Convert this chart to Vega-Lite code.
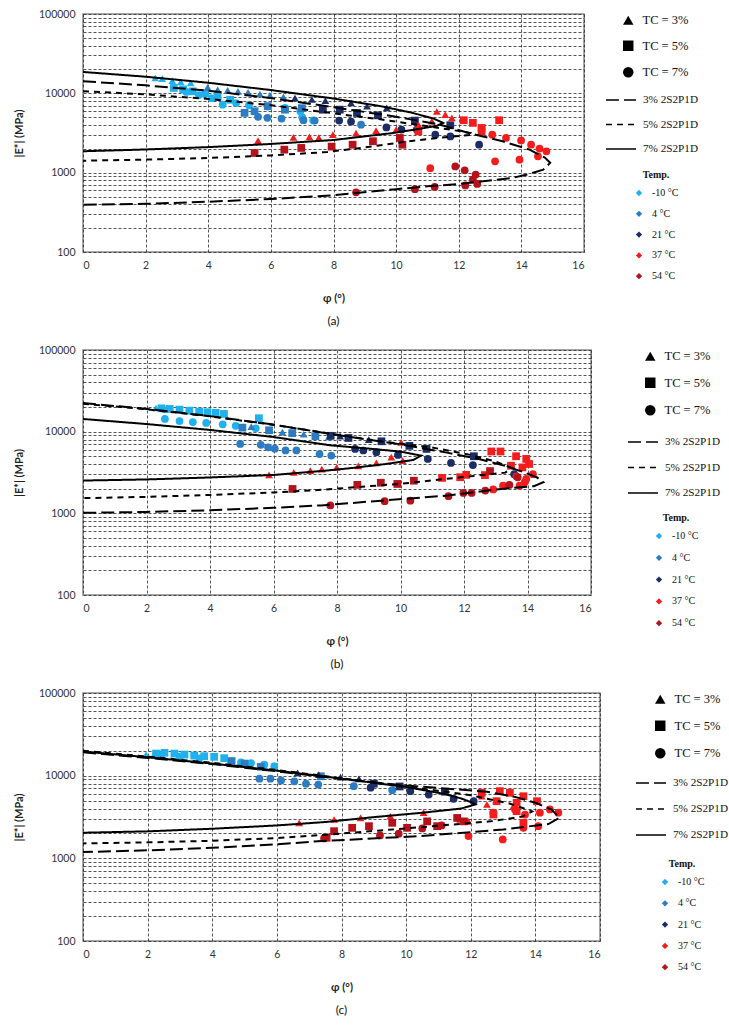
{
  "$schema": "https://vega.github.io/schema/vega-lite/v6.json",
  "background": "white",
  "padding": {"left": 12, "top": 8, "right": 0, "bottom": 0},
  "spacing": 16,
  "datasets": {
    "curves": [
      {"panel":"a","model":"3% 2S2P1D","phi":0,"E":14200},{"panel":"a","model":"3% 2S2P1D","phi":2,"E":12600},{"panel":"a","model":"3% 2S2P1D","phi":4,"E":10800},{"panel":"a","model":"3% 2S2P1D","phi":6,"E":8700},{"panel":"a","model":"3% 2S2P1D","phi":7.8,"E":6870},{"panel":"a","model":"3% 2S2P1D","phi":9.9,"E":5140},{"panel":"a","model":"3% 2S2P1D","phi":11.4,"E":4030},{"panel":"a","model":"3% 2S2P1D","phi":12.4,"E":3100},{"panel":"a","model":"3% 2S2P1D","phi":13.4,"E":2490},{"panel":"a","model":"3% 2S2P1D","phi":14.26,"E":1950},{"panel":"a","model":"3% 2S2P1D","phi":14.75,"E":1550},{"panel":"a","model":"3% 2S2P1D","phi":14.92,"E":1330},{"panel":"a","model":"3% 2S2P1D","phi":14.7,"E":1090},{"panel":"a","model":"3% 2S2P1D","phi":14.2,"E":950},{"panel":"a","model":"3% 2S2P1D","phi":13.7,"E":857},{"panel":"a","model":"3% 2S2P1D","phi":12,"E":720},{"panel":"a","model":"3% 2S2P1D","phi":11,"E":673},{"panel":"a","model":"3% 2S2P1D","phi":10,"E":620},{"panel":"a","model":"3% 2S2P1D","phi":8,"E":519},{"panel":"a","model":"3% 2S2P1D","phi":6,"E":465},{"panel":"a","model":"3% 2S2P1D","phi":4,"E":430},{"panel":"a","model":"3% 2S2P1D","phi":2,"E":405},{"panel":"a","model":"3% 2S2P1D","phi":0,"E":394},
      {"panel":"a","model":"5% 2S2P1D","phi":0,"E":10640},{"panel":"a","model":"5% 2S2P1D","phi":2,"E":9700},{"panel":"a","model":"5% 2S2P1D","phi":4,"E":8500},{"panel":"a","model":"5% 2S2P1D","phi":6,"E":7100},{"panel":"a","model":"5% 2S2P1D","phi":8,"E":5600},{"panel":"a","model":"5% 2S2P1D","phi":9.5,"E":4700},{"panel":"a","model":"5% 2S2P1D","phi":10.8,"E":3950},{"panel":"a","model":"5% 2S2P1D","phi":11.8,"E":3450},{"panel":"a","model":"5% 2S2P1D","phi":12.4,"E":3150},{"panel":"a","model":"5% 2S2P1D","phi":12.45,"E":3000},{"panel":"a","model":"5% 2S2P1D","phi":12.1,"E":2930},{"panel":"a","model":"5% 2S2P1D","phi":11.4,"E":2750},{"panel":"a","model":"5% 2S2P1D","phi":10.4,"E":2490},{"panel":"a","model":"5% 2S2P1D","phi":9,"E":2080},{"panel":"a","model":"5% 2S2P1D","phi":7.8,"E":1820},{"panel":"a","model":"5% 2S2P1D","phi":6,"E":1650},{"panel":"a","model":"5% 2S2P1D","phi":4,"E":1530},{"panel":"a","model":"5% 2S2P1D","phi":2,"E":1460},{"panel":"a","model":"5% 2S2P1D","phi":0,"E":1416},
      {"panel":"a","model":"7% 2S2P1D","phi":0,"E":18600},{"panel":"a","model":"7% 2S2P1D","phi":2,"E":16200},{"panel":"a","model":"7% 2S2P1D","phi":4,"E":13600},{"panel":"a","model":"7% 2S2P1D","phi":6,"E":11000},{"panel":"a","model":"7% 2S2P1D","phi":8,"E":8600},{"panel":"a","model":"7% 2S2P1D","phi":9.5,"E":6900},{"panel":"a","model":"7% 2S2P1D","phi":10.5,"E":5700},{"panel":"a","model":"7% 2S2P1D","phi":11.2,"E":4800},{"panel":"a","model":"7% 2S2P1D","phi":11.5,"E":4240},{"panel":"a","model":"7% 2S2P1D","phi":11.3,"E":3900},{"panel":"a","model":"7% 2S2P1D","phi":10.8,"E":3600},{"panel":"a","model":"7% 2S2P1D","phi":9.9,"E":3160},{"panel":"a","model":"7% 2S2P1D","phi":8,"E":2580},{"panel":"a","model":"7% 2S2P1D","phi":6,"E":2300},{"panel":"a","model":"7% 2S2P1D","phi":4,"E":2100},{"panel":"a","model":"7% 2S2P1D","phi":2,"E":1960},{"panel":"a","model":"7% 2S2P1D","phi":0,"E":1862},

      {"panel":"b","model":"3% 2S2P1D","phi":0,"E":22400},{"panel":"b","model":"3% 2S2P1D","phi":2,"E":19000},{"panel":"b","model":"3% 2S2P1D","phi":4,"E":15500},{"panel":"b","model":"3% 2S2P1D","phi":6,"E":12200},{"panel":"b","model":"3% 2S2P1D","phi":8,"E":9100},{"panel":"b","model":"3% 2S2P1D","phi":10,"E":7000},{"panel":"b","model":"3% 2S2P1D","phi":11.5,"E":5500},{"panel":"b","model":"3% 2S2P1D","phi":12.5,"E":4600},{"panel":"b","model":"3% 2S2P1D","phi":13.3,"E":3800},{"panel":"b","model":"3% 2S2P1D","phi":13.9,"E":3170},{"panel":"b","model":"3% 2S2P1D","phi":14.3,"E":2750},{"panel":"b","model":"3% 2S2P1D","phi":14.5,"E":2400},{"panel":"b","model":"3% 2S2P1D","phi":14.2,"E":2150},{"panel":"b","model":"3% 2S2P1D","phi":13,"E":1960},{"panel":"b","model":"3% 2S2P1D","phi":11.5,"E":1650},{"panel":"b","model":"3% 2S2P1D","phi":9.4,"E":1430},{"panel":"b","model":"3% 2S2P1D","phi":7.5,"E":1250},{"panel":"b","model":"3% 2S2P1D","phi":6,"E":1170},{"panel":"b","model":"3% 2S2P1D","phi":4,"E":1090},{"panel":"b","model":"3% 2S2P1D","phi":2,"E":1040},{"panel":"b","model":"3% 2S2P1D","phi":0,"E":1014},
      {"panel":"b","model":"5% 2S2P1D","phi":0,"E":22000},{"panel":"b","model":"5% 2S2P1D","phi":2,"E":18800},{"panel":"b","model":"5% 2S2P1D","phi":4,"E":15400},{"panel":"b","model":"5% 2S2P1D","phi":6,"E":12100},{"panel":"b","model":"5% 2S2P1D","phi":8,"E":9200},{"panel":"b","model":"5% 2S2P1D","phi":9.5,"E":7500},{"panel":"b","model":"5% 2S2P1D","phi":11,"E":6400},{"panel":"b","model":"5% 2S2P1D","phi":12.2,"E":5200},{"panel":"b","model":"5% 2S2P1D","phi":13,"E":4300},{"panel":"b","model":"5% 2S2P1D","phi":13.5,"E":3600},{"panel":"b","model":"5% 2S2P1D","phi":13.3,"E":3150},{"panel":"b","model":"5% 2S2P1D","phi":11.9,"E":2760},{"panel":"b","model":"5% 2S2P1D","phi":10,"E":2300},{"panel":"b","model":"5% 2S2P1D","phi":7.5,"E":1940},{"panel":"b","model":"5% 2S2P1D","phi":6,"E":1800},{"panel":"b","model":"5% 2S2P1D","phi":4,"E":1680},{"panel":"b","model":"5% 2S2P1D","phi":2,"E":1590},{"panel":"b","model":"5% 2S2P1D","phi":0,"E":1535},
      {"panel":"b","model":"7% 2S2P1D","phi":0,"E":14300},{"panel":"b","model":"7% 2S2P1D","phi":2,"E":12400},{"panel":"b","model":"7% 2S2P1D","phi":4,"E":10500},{"panel":"b","model":"7% 2S2P1D","phi":6,"E":8600},{"panel":"b","model":"7% 2S2P1D","phi":7.8,"E":6800},{"panel":"b","model":"7% 2S2P1D","phi":9,"E":6200},{"panel":"b","model":"7% 2S2P1D","phi":10,"E":5700},{"panel":"b","model":"7% 2S2P1D","phi":10.65,"E":5090},{"panel":"b","model":"7% 2S2P1D","phi":10.4,"E":4500},{"panel":"b","model":"7% 2S2P1D","phi":9.5,"E":4000},{"panel":"b","model":"7% 2S2P1D","phi":8.5,"E":3600},{"panel":"b","model":"7% 2S2P1D","phi":7.7,"E":3350},{"panel":"b","model":"7% 2S2P1D","phi":6,"E":2950},{"panel":"b","model":"7% 2S2P1D","phi":4,"E":2750},{"panel":"b","model":"7% 2S2P1D","phi":2,"E":2600},{"panel":"b","model":"7% 2S2P1D","phi":0,"E":2520},

      {"panel":"c","model":"3% 2S2P1D","phi":0,"E":19200},{"panel":"c","model":"3% 2S2P1D","phi":2,"E":16400},{"panel":"c","model":"3% 2S2P1D","phi":4,"E":13800},{"panel":"c","model":"3% 2S2P1D","phi":6,"E":11300},{"panel":"c","model":"3% 2S2P1D","phi":8,"E":9100},{"panel":"c","model":"3% 2S2P1D","phi":10,"E":7600},{"panel":"c","model":"3% 2S2P1D","phi":12.5,"E":6400},{"panel":"c","model":"3% 2S2P1D","phi":13.4,"E":5500},{"panel":"c","model":"3% 2S2P1D","phi":14,"E":4700},{"panel":"c","model":"3% 2S2P1D","phi":14.5,"E":3900},{"panel":"c","model":"3% 2S2P1D","phi":14.75,"E":3100},{"panel":"c","model":"3% 2S2P1D","phi":14.4,"E":2600},{"panel":"c","model":"3% 2S2P1D","phi":13,"E":2230},{"panel":"c","model":"3% 2S2P1D","phi":10.45,"E":1860},{"panel":"c","model":"3% 2S2P1D","phi":7.4,"E":1620},{"panel":"c","model":"3% 2S2P1D","phi":6,"E":1480},{"panel":"c","model":"3% 2S2P1D","phi":4,"E":1340},{"panel":"c","model":"3% 2S2P1D","phi":2,"E":1250},{"panel":"c","model":"3% 2S2P1D","phi":0,"E":1190},
      {"panel":"c","model":"5% 2S2P1D","phi":0,"E":20000},{"panel":"c","model":"5% 2S2P1D","phi":2,"E":17000},{"panel":"c","model":"5% 2S2P1D","phi":4,"E":14300},{"panel":"c","model":"5% 2S2P1D","phi":6,"E":11700},{"panel":"c","model":"5% 2S2P1D","phi":8,"E":9300},{"panel":"c","model":"5% 2S2P1D","phi":10,"E":7400},{"panel":"c","model":"5% 2S2P1D","phi":12,"E":5800},{"panel":"c","model":"5% 2S2P1D","phi":13.2,"E":4600},{"panel":"c","model":"5% 2S2P1D","phi":13.9,"E":3700},{"panel":"c","model":"5% 2S2P1D","phi":13.6,"E":3200},{"panel":"c","model":"5% 2S2P1D","phi":12.6,"E":2800},{"panel":"c","model":"5% 2S2P1D","phi":10,"E":2300},{"panel":"c","model":"5% 2S2P1D","phi":7.66,"E":1950},{"panel":"c","model":"5% 2S2P1D","phi":6,"E":1760},{"panel":"c","model":"5% 2S2P1D","phi":4,"E":1630},{"panel":"c","model":"5% 2S2P1D","phi":2,"E":1560},{"panel":"c","model":"5% 2S2P1D","phi":0,"E":1515},
      {"panel":"c","model":"7% 2S2P1D","phi":0,"E":19600},{"panel":"c","model":"7% 2S2P1D","phi":2,"E":16700},{"panel":"c","model":"7% 2S2P1D","phi":4,"E":14000},{"panel":"c","model":"7% 2S2P1D","phi":6,"E":11500},{"panel":"c","model":"7% 2S2P1D","phi":8,"E":9200},{"panel":"c","model":"7% 2S2P1D","phi":10,"E":7300},{"panel":"c","model":"7% 2S2P1D","phi":11.2,"E":6000},{"panel":"c","model":"7% 2S2P1D","phi":11.7,"E":5300},{"panel":"c","model":"7% 2S2P1D","phi":12.0,"E":4800},{"panel":"c","model":"7% 2S2P1D","phi":12.14,"E":4480},{"panel":"c","model":"7% 2S2P1D","phi":11.7,"E":4000},{"panel":"c","model":"7% 2S2P1D","phi":10.5,"E":3560},{"panel":"c","model":"7% 2S2P1D","phi":9,"E":3150},{"panel":"c","model":"7% 2S2P1D","phi":7.5,"E":2750},{"panel":"c","model":"7% 2S2P1D","phi":6,"E":2500},{"panel":"c","model":"7% 2S2P1D","phi":4,"E":2280},{"panel":"c","model":"7% 2S2P1D","phi":2,"E":2120},{"panel":"c","model":"7% 2S2P1D","phi":0,"E":2040}
    ],
    "points": [
      {"panel":"a","tc":"TC = 3%","temp":"-10 °C","phi":2.31,"E":15600},{"panel":"a","tc":"TC = 3%","temp":"-10 °C","phi":2.53,"E":15300},{"panel":"a","tc":"TC = 3%","temp":"-10 °C","phi":2.85,"E":14500},{"panel":"a","tc":"TC = 3%","temp":"-10 °C","phi":3.12,"E":13900},{"panel":"a","tc":"TC = 3%","temp":"-10 °C","phi":3.44,"E":13500},
      {"panel":"a","tc":"TC = 5%","temp":"-10 °C","phi":2.9,"E":11700},{"panel":"a","tc":"TC = 5%","temp":"-10 °C","phi":3.2,"E":11200},{"panel":"a","tc":"TC = 5%","temp":"-10 °C","phi":3.5,"E":10600},{"panel":"a","tc":"TC = 5%","temp":"-10 °C","phi":3.9,"E":10000},{"panel":"a","tc":"TC = 5%","temp":"-10 °C","phi":4.3,"E":9000},{"panel":"a","tc":"TC = 5%","temp":"-10 °C","phi":4.7,"E":8300},
      {"panel":"a","tc":"TC = 7%","temp":"-10 °C","phi":3.3,"E":10400},{"panel":"a","tc":"TC = 7%","temp":"-10 °C","phi":3.7,"E":9500},{"panel":"a","tc":"TC = 7%","temp":"-10 °C","phi":4.1,"E":8700},{"panel":"a","tc":"TC = 7%","temp":"-10 °C","phi":4.46,"E":7200},{"panel":"a","tc":"TC = 7%","temp":"-10 °C","phi":4.89,"E":7550},{"panel":"a","tc":"TC = 7%","temp":"-10 °C","phi":5.3,"E":7100},{"panel":"a","tc":"TC = 7%","temp":"-10 °C","phi":5.9,"E":6800},{"panel":"a","tc":"TC = 7%","temp":"-10 °C","phi":6.45,"E":6550},{"panel":"a","tc":"TC = 7%","temp":"-10 °C","phi":6.94,"E":5940},{"panel":"a","tc":"TC = 7%","temp":"-10 °C","phi":7.0,"E":5000},{"panel":"a","tc":"TC = 7%","temp":"-10 °C","phi":7.35,"E":4550},
      {"panel":"a","tc":"TC = 3%","temp":"4 °C","phi":3.98,"E":11900},{"panel":"a","tc":"TC = 3%","temp":"4 °C","phi":4.3,"E":11100},{"panel":"a","tc":"TC = 3%","temp":"4 °C","phi":4.62,"E":10900},{"panel":"a","tc":"TC = 3%","temp":"4 °C","phi":4.95,"E":10600},{"panel":"a","tc":"TC = 3%","temp":"4 °C","phi":5.27,"E":10300},{"panel":"a","tc":"TC = 3%","temp":"4 °C","phi":5.65,"E":9810},{"panel":"a","tc":"TC = 3%","temp":"4 °C","phi":5.97,"E":9430},{"panel":"a","tc":"TC = 3%","temp":"4 °C","phi":6.4,"E":9000},
      {"panel":"a","tc":"TC = 5%","temp":"4 °C","phi":5.16,"E":5670},{"panel":"a","tc":"TC = 5%","temp":"4 °C","phi":5.48,"E":5940},{"panel":"a","tc":"TC = 5%","temp":"4 °C","phi":5.9,"E":6900},{"panel":"a","tc":"TC = 5%","temp":"4 °C","phi":6.45,"E":6220},{"panel":"a","tc":"TC = 5%","temp":"4 °C","phi":6.99,"E":6500},
      {"panel":"a","tc":"TC = 7%","temp":"4 °C","phi":5.59,"E":5050},{"panel":"a","tc":"TC = 7%","temp":"4 °C","phi":5.89,"E":4920},{"panel":"a","tc":"TC = 7%","temp":"4 °C","phi":6.34,"E":4800},{"panel":"a","tc":"TC = 7%","temp":"4 °C","phi":7.04,"E":4580},{"panel":"a","tc":"TC = 7%","temp":"4 °C","phi":7.4,"E":4530},{"panel":"a","tc":"TC = 7%","temp":"4 °C","phi":8.88,"E":4030},
      {"panel":"a","tc":"TC = 3%","temp":"21 °C","phi":6.77,"E":8700},{"panel":"a","tc":"TC = 3%","temp":"21 °C","phi":7.31,"E":8360},{"panel":"a","tc":"TC = 3%","temp":"21 °C","phi":7.74,"E":8110},{"panel":"a","tc":"TC = 3%","temp":"21 °C","phi":8.56,"E":7590},{"panel":"a","tc":"TC = 3%","temp":"21 °C","phi":9.07,"E":6870},{"panel":"a","tc":"TC = 3%","temp":"21 °C","phi":9.7,"E":6550},
      {"panel":"a","tc":"TC = 5%","temp":"21 °C","phi":7.66,"E":6220},{"panel":"a","tc":"TC = 5%","temp":"21 °C","phi":8.2,"E":6230},{"panel":"a","tc":"TC = 5%","temp":"21 °C","phi":8.75,"E":5660},{"panel":"a","tc":"TC = 5%","temp":"21 °C","phi":9.42,"E":5280},{"panel":"a","tc":"TC = 5%","temp":"21 °C","phi":10.6,"E":4530},{"panel":"a","tc":"TC = 5%","temp":"21 °C","phi":11.73,"E":3960},
      {"panel":"a","tc":"TC = 7%","temp":"21 °C","phi":8.18,"E":4530},{"panel":"a","tc":"TC = 7%","temp":"21 °C","phi":8.56,"E":4400},{"panel":"a","tc":"TC = 7%","temp":"21 °C","phi":9.69,"E":3720},{"panel":"a","tc":"TC = 7%","temp":"21 °C","phi":10.17,"E":3490},{"panel":"a","tc":"TC = 7%","temp":"21 °C","phi":10.66,"E":3490},{"panel":"a","tc":"TC = 7%","temp":"21 °C","phi":11.25,"E":3010},{"panel":"a","tc":"TC = 7%","temp":"21 °C","phi":11.73,"E":2860},{"panel":"a","tc":"TC = 7%","temp":"21 °C","phi":12.65,"E":2250},
      {"panel":"a","tc":"TC = 3%","temp":"37 °C","phi":5.59,"E":2540},{"panel":"a","tc":"TC = 3%","temp":"37 °C","phi":6.72,"E":2790},{"panel":"a","tc":"TC = 3%","temp":"37 °C","phi":7.23,"E":2830},{"panel":"a","tc":"TC = 3%","temp":"37 °C","phi":7.53,"E":2760},{"panel":"a","tc":"TC = 3%","temp":"37 °C","phi":7.98,"E":3010},{"panel":"a","tc":"TC = 3%","temp":"37 °C","phi":8.72,"E":3160},{"panel":"a","tc":"TC = 3%","temp":"37 °C","phi":9.36,"E":3380},{"panel":"a","tc":"TC = 3%","temp":"37 °C","phi":10.0,"E":3490},{"panel":"a","tc":"TC = 3%","temp":"37 °C","phi":10.71,"E":4030},{"panel":"a","tc":"TC = 3%","temp":"37 °C","phi":11.14,"E":4450},{"panel":"a","tc":"TC = 3%","temp":"37 °C","phi":11.3,"E":5900},{"panel":"a","tc":"TC = 3%","temp":"37 °C","phi":11.57,"E":5400},{"panel":"a","tc":"TC = 3%","temp":"37 °C","phi":11.78,"E":4900},
      {"panel":"a","tc":"TC = 5%","temp":"37 °C","phi":10.71,"E":3320},{"panel":"a","tc":"TC = 5%","temp":"37 °C","phi":12.16,"E":4580},{"panel":"a","tc":"TC = 5%","temp":"37 °C","phi":12.45,"E":4240},{"panel":"a","tc":"TC = 5%","temp":"37 °C","phi":12.73,"E":3660},{"panel":"a","tc":"TC = 5%","temp":"37 °C","phi":12.73,"E":3320},{"panel":"a","tc":"TC = 5%","temp":"37 °C","phi":13.29,"E":4580},
      {"panel":"a","tc":"TC = 5%","temp":"54 °C","phi":5.48,"E":1770},{"panel":"a","tc":"TC = 5%","temp":"54 °C","phi":6.43,"E":1950},{"panel":"a","tc":"TC = 5%","temp":"54 °C","phi":6.97,"E":2050},{"panel":"a","tc":"TC = 5%","temp":"54 °C","phi":7.94,"E":2130},{"panel":"a","tc":"TC = 5%","temp":"54 °C","phi":8.61,"E":2250},{"panel":"a","tc":"TC = 5%","temp":"54 °C","phi":9.26,"E":2490},{"panel":"a","tc":"TC = 5%","temp":"54 °C","phi":10.12,"E":2740},{"panel":"a","tc":"TC = 5%","temp":"54 °C","phi":10.2,"E":2250},
      {"panel":"a","tc":"TC = 7%","temp":"37 °C","phi":11.09,"E":1140},{"panel":"a","tc":"TC = 7%","temp":"37 °C","phi":13.07,"E":3010},{"panel":"a","tc":"TC = 7%","temp":"37 °C","phi":13.51,"E":2740},{"panel":"a","tc":"TC = 7%","temp":"37 °C","phi":13.99,"E":2550},{"panel":"a","tc":"TC = 7%","temp":"37 °C","phi":14.31,"E":2250},{"panel":"a","tc":"TC = 7%","temp":"37 °C","phi":14.58,"E":2010},{"panel":"a","tc":"TC = 7%","temp":"37 °C","phi":14.8,"E":1860},{"panel":"a","tc":"TC = 7%","temp":"37 °C","phi":14.53,"E":1610},{"panel":"a","tc":"TC = 7%","temp":"37 °C","phi":13.94,"E":1460},{"panel":"a","tc":"TC = 7%","temp":"37 °C","phi":13.16,"E":1390},
      {"panel":"a","tc":"TC = 7%","temp":"54 °C","phi":8.72,"E":565},{"panel":"a","tc":"TC = 7%","temp":"54 °C","phi":10.6,"E":620},{"panel":"a","tc":"TC = 7%","temp":"54 °C","phi":11.23,"E":660},{"panel":"a","tc":"TC = 7%","temp":"54 °C","phi":12.21,"E":690},{"panel":"a","tc":"TC = 7%","temp":"54 °C","phi":12.59,"E":720},{"panel":"a","tc":"TC = 7%","temp":"54 °C","phi":12.45,"E":815},{"panel":"a","tc":"TC = 7%","temp":"54 °C","phi":12.54,"E":945},{"panel":"a","tc":"TC = 7%","temp":"54 °C","phi":12.19,"E":1070},{"panel":"a","tc":"TC = 7%","temp":"54 °C","phi":11.89,"E":1200},

      {"panel":"b","tc":"TC = 3%","temp":"-10 °C","phi":2.3,"E":19500},{"panel":"b","tc":"TC = 3%","temp":"-10 °C","phi":2.6,"E":18800},
      {"panel":"b","tc":"TC = 5%","temp":"-10 °C","phi":2.47,"E":19300},{"panel":"b","tc":"TC = 5%","temp":"-10 °C","phi":2.73,"E":19000},{"panel":"b","tc":"TC = 5%","temp":"-10 °C","phi":3.04,"E":18600},{"panel":"b","tc":"TC = 5%","temp":"-10 °C","phi":3.35,"E":18100},{"panel":"b","tc":"TC = 5%","temp":"-10 °C","phi":3.66,"E":17600},{"panel":"b","tc":"TC = 5%","temp":"-10 °C","phi":3.92,"E":17300},{"panel":"b","tc":"TC = 5%","temp":"-10 °C","phi":4.18,"E":17000},{"panel":"b","tc":"TC = 5%","temp":"-10 °C","phi":4.44,"E":16500},{"panel":"b","tc":"TC = 5%","temp":"-10 °C","phi":5.54,"E":14600},
      {"panel":"b","tc":"TC = 7%","temp":"-10 °C","phi":2.58,"E":14300},{"panel":"b","tc":"TC = 7%","temp":"-10 °C","phi":3.04,"E":13500},{"panel":"b","tc":"TC = 7%","temp":"-10 °C","phi":3.46,"E":13100},{"panel":"b","tc":"TC = 7%","temp":"-10 °C","phi":3.88,"E":12800},{"panel":"b","tc":"TC = 7%","temp":"-10 °C","phi":4.4,"E":12300},{"panel":"b","tc":"TC = 7%","temp":"-10 °C","phi":4.81,"E":11800},{"panel":"b","tc":"TC = 7%","temp":"-10 °C","phi":5.44,"E":11000},
      {"panel":"b","tc":"TC = 5%","temp":"4 °C","phi":5.02,"E":11200},{"panel":"b","tc":"TC = 5%","temp":"4 °C","phi":5.86,"E":10400},{"panel":"b","tc":"TC = 5%","temp":"4 °C","phi":6.59,"E":9600},{"panel":"b","tc":"TC = 5%","temp":"4 °C","phi":7.32,"E":8800},
      {"panel":"b","tc":"TC = 3%","temp":"4 °C","phi":5.3,"E":11500},{"panel":"b","tc":"TC = 3%","temp":"4 °C","phi":6.28,"E":9900},{"panel":"b","tc":"TC = 3%","temp":"4 °C","phi":6.95,"E":9300},{"panel":"b","tc":"TC = 3%","temp":"4 °C","phi":7.74,"E":8600},
      {"panel":"b","tc":"TC = 7%","temp":"4 °C","phi":4.95,"E":7080},{"panel":"b","tc":"TC = 7%","temp":"4 °C","phi":5.6,"E":6900},{"panel":"b","tc":"TC = 7%","temp":"4 °C","phi":5.83,"E":6440},{"panel":"b","tc":"TC = 7%","temp":"4 °C","phi":6.04,"E":6180},{"panel":"b","tc":"TC = 7%","temp":"4 °C","phi":6.38,"E":5900},{"panel":"b","tc":"TC = 7%","temp":"4 °C","phi":6.72,"E":5900},{"panel":"b","tc":"TC = 7%","temp":"4 °C","phi":7.45,"E":5320},{"panel":"b","tc":"TC = 7%","temp":"4 °C","phi":7.82,"E":5100},
      {"panel":"b","tc":"TC = 5%","temp":"21 °C","phi":7.8,"E":8900},{"panel":"b","tc":"TC = 5%","temp":"21 °C","phi":8.36,"E":8370},{"panel":"b","tc":"TC = 5%","temp":"21 °C","phi":9.4,"E":7620},{"panel":"b","tc":"TC = 5%","temp":"21 °C","phi":10.28,"E":6700},{"panel":"b","tc":"TC = 5%","temp":"21 °C","phi":10.82,"E":6150},{"panel":"b","tc":"TC = 5%","temp":"21 °C","phi":12.31,"E":5000},
      {"panel":"b","tc":"TC = 3%","temp":"21 °C","phi":8.1,"E":8800},{"panel":"b","tc":"TC = 3%","temp":"21 °C","phi":9.0,"E":8000},
      {"panel":"b","tc":"TC = 7%","temp":"21 °C","phi":8.57,"E":6150},{"panel":"b","tc":"TC = 7%","temp":"21 °C","phi":8.83,"E":5880},{"panel":"b","tc":"TC = 7%","temp":"21 °C","phi":9.24,"E":5600},{"panel":"b","tc":"TC = 7%","temp":"21 °C","phi":9.92,"E":5190},{"panel":"b","tc":"TC = 7%","temp":"21 °C","phi":10.86,"E":4640},{"panel":"b","tc":"TC = 7%","temp":"21 °C","phi":11.59,"E":4140},{"panel":"b","tc":"TC = 7%","temp":"21 °C","phi":12.28,"E":3900},{"panel":"b","tc":"TC = 7%","temp":"21 °C","phi":13.58,"E":3020},
      {"panel":"b","tc":"TC = 3%","temp":"37 °C","phi":5.86,"E":2960},{"panel":"b","tc":"TC = 3%","temp":"37 °C","phi":6.64,"E":3180},{"panel":"b","tc":"TC = 3%","temp":"37 °C","phi":7.16,"E":3330},{"panel":"b","tc":"TC = 3%","temp":"37 °C","phi":7.52,"E":3480},{"panel":"b","tc":"TC = 3%","temp":"37 °C","phi":7.99,"E":3650},{"panel":"b","tc":"TC = 3%","temp":"37 °C","phi":8.67,"E":3820},{"panel":"b","tc":"TC = 3%","temp":"37 °C","phi":9.24,"E":4140},{"panel":"b","tc":"TC = 3%","temp":"37 °C","phi":9.71,"E":4880},{"panel":"b","tc":"TC = 3%","temp":"37 °C","phi":10.07,"E":4420},{"panel":"b","tc":"TC = 3%","temp":"37 °C","phi":10.02,"E":7400},
      {"panel":"b","tc":"TC = 5%","temp":"37 °C","phi":12.86,"E":5720},{"panel":"b","tc":"TC = 5%","temp":"37 °C","phi":13.15,"E":5720},{"panel":"b","tc":"TC = 5%","temp":"37 °C","phi":13.64,"E":5000},{"panel":"b","tc":"TC = 5%","temp":"37 °C","phi":13.96,"E":4640},{"panel":"b","tc":"TC = 5%","temp":"37 °C","phi":13.48,"E":3830},{"panel":"b","tc":"TC = 5%","temp":"37 °C","phi":13.84,"E":3650},{"panel":"b","tc":"TC = 5%","temp":"37 °C","phi":14.05,"E":4020},
      {"panel":"b","tc":"TC = 5%","temp":"54 °C","phi":6.6,"E":1990},{"panel":"b","tc":"TC = 5%","temp":"54 °C","phi":8.64,"E":2230},{"panel":"b","tc":"TC = 5%","temp":"54 °C","phi":9.38,"E":2370},{"panel":"b","tc":"TC = 5%","temp":"54 °C","phi":9.9,"E":2290},{"panel":"b","tc":"TC = 5%","temp":"54 °C","phi":10.42,"E":2510},{"panel":"b","tc":"TC = 5%","temp":"37 °C","phi":11.31,"E":2720},{"panel":"b","tc":"TC = 5%","temp":"37 °C","phi":11.88,"E":2770},{"panel":"b","tc":"TC = 5%","temp":"37 °C","phi":12.07,"E":2960},{"panel":"b","tc":"TC = 5%","temp":"37 °C","phi":12.66,"E":2940},{"panel":"b","tc":"TC = 5%","temp":"54 °C","phi":12.82,"E":3290},
      {"panel":"b","tc":"TC = 7%","temp":"37 °C","phi":12.92,"E":1960},{"panel":"b","tc":"TC = 7%","temp":"37 °C","phi":13.23,"E":2180},{"panel":"b","tc":"TC = 7%","temp":"37 °C","phi":13.75,"E":2180},{"panel":"b","tc":"TC = 7%","temp":"37 °C","phi":13.91,"E":2400},{"panel":"b","tc":"TC = 7%","temp":"37 °C","phi":14.17,"E":3020},{"panel":"b","tc":"TC = 7%","temp":"37 °C","phi":13.65,"E":2840},{"panel":"b","tc":"TC = 7%","temp":"37 °C","phi":13.96,"E":2640},
      {"panel":"b","tc":"TC = 7%","temp":"54 °C","phi":7.79,"E":1250},{"panel":"b","tc":"TC = 7%","temp":"54 °C","phi":9.5,"E":1410},{"panel":"b","tc":"TC = 7%","temp":"54 °C","phi":10.31,"E":1430},{"panel":"b","tc":"TC = 7%","temp":"54 °C","phi":11.51,"E":1620},{"panel":"b","tc":"TC = 7%","temp":"54 °C","phi":11.98,"E":1780},{"panel":"b","tc":"TC = 7%","temp":"54 °C","phi":12.24,"E":1780},{"panel":"b","tc":"TC = 7%","temp":"54 °C","phi":12.67,"E":1900},{"panel":"b","tc":"TC = 7%","temp":"54 °C","phi":13.43,"E":2230},{"panel":"b","tc":"TC = 7%","temp":"54 °C","phi":13.69,"E":2760},

      {"panel":"c","tc":"TC = 3%","temp":"-10 °C","phi":1.95,"E":18000},{"panel":"c","tc":"TC = 3%","temp":"-10 °C","phi":2.2,"E":17800},
      {"panel":"c","tc":"TC = 5%","temp":"-10 °C","phi":2.26,"E":18500},{"panel":"c","tc":"TC = 5%","temp":"-10 °C","phi":2.52,"E":18900},{"panel":"c","tc":"TC = 5%","temp":"-10 °C","phi":2.83,"E":18500},{"panel":"c","tc":"TC = 5%","temp":"-10 °C","phi":3.14,"E":18000},{"panel":"c","tc":"TC = 5%","temp":"-10 °C","phi":3.44,"E":17500},{"panel":"c","tc":"TC = 5%","temp":"-10 °C","phi":3.75,"E":17200},{"panel":"c","tc":"TC = 5%","temp":"-10 °C","phi":4.06,"E":16900},{"panel":"c","tc":"TC = 5%","temp":"-10 °C","phi":4.37,"E":16300},
      {"panel":"c","tc":"TC = 7%","temp":"-10 °C","phi":2.4,"E":17600},{"panel":"c","tc":"TC = 7%","temp":"-10 °C","phi":3.0,"E":17000},{"panel":"c","tc":"TC = 7%","temp":"-10 °C","phi":3.6,"E":16200},{"panel":"c","tc":"TC = 7%","temp":"-10 °C","phi":4.58,"E":14900},{"panel":"c","tc":"TC = 7%","temp":"-10 °C","phi":4.89,"E":14500},{"panel":"c","tc":"TC = 7%","temp":"-10 °C","phi":5.2,"E":14200},{"panel":"c","tc":"TC = 7%","temp":"-10 °C","phi":5.61,"E":13600},{"panel":"c","tc":"TC = 7%","temp":"-10 °C","phi":5.92,"E":13000},
      {"panel":"c","tc":"TC = 7%","temp":"4 °C","phi":5.46,"E":9200},{"panel":"c","tc":"TC = 7%","temp":"4 °C","phi":5.8,"E":9200},{"panel":"c","tc":"TC = 7%","temp":"4 °C","phi":6.13,"E":8770},{"panel":"c","tc":"TC = 7%","temp":"4 °C","phi":6.54,"E":8530},{"panel":"c","tc":"TC = 7%","temp":"4 °C","phi":6.9,"E":8000},{"panel":"c","tc":"TC = 7%","temp":"4 °C","phi":7.28,"E":7800},{"panel":"c","tc":"TC = 7%","temp":"4 °C","phi":8.38,"E":7470},{"panel":"c","tc":"TC = 7%","temp":"4 °C","phi":9.57,"E":6670},
      {"panel":"c","tc":"TC = 5%","temp":"4 °C","phi":4.6,"E":15000},{"panel":"c","tc":"TC = 5%","temp":"4 °C","phi":5.0,"E":14000},{"panel":"c","tc":"TC = 5%","temp":"4 °C","phi":5.5,"E":12800},{"panel":"c","tc":"TC = 5%","temp":"4 °C","phi":7.36,"E":9830},
      {"panel":"c","tc":"TC = 3%","temp":"21 °C","phi":6.64,"E":10800},{"panel":"c","tc":"TC = 3%","temp":"21 °C","phi":7.3,"E":10300},{"panel":"c","tc":"TC = 3%","temp":"21 °C","phi":7.97,"E":9600},{"panel":"c","tc":"TC = 3%","temp":"21 °C","phi":8.54,"E":9130},
      {"panel":"c","tc":"TC = 7%","temp":"21 °C","phi":8.9,"E":7150},{"panel":"c","tc":"TC = 7%","temp":"21 °C","phi":10.13,"E":6500},{"panel":"c","tc":"TC = 7%","temp":"21 °C","phi":10.7,"E":5900},{"panel":"c","tc":"TC = 7%","temp":"21 °C","phi":11.47,"E":5240},{"panel":"c","tc":"TC = 7%","temp":"21 °C","phi":12.09,"E":4910},
      {"panel":"c","tc":"TC = 5%","temp":"21 °C","phi":9.0,"E":8000},{"panel":"c","tc":"TC = 5%","temp":"21 °C","phi":9.8,"E":7400},{"panel":"c","tc":"TC = 5%","temp":"21 °C","phi":11.2,"E":6400},
      {"panel":"c","tc":"TC = 3%","temp":"37 °C","phi":6.69,"E":2690},{"panel":"c","tc":"TC = 3%","temp":"37 °C","phi":7.77,"E":2950},{"panel":"c","tc":"TC = 3%","temp":"37 °C","phi":8.59,"E":3080},{"panel":"c","tc":"TC = 3%","temp":"37 °C","phi":9.51,"E":3230},{"panel":"c","tc":"TC = 3%","temp":"37 °C","phi":10.54,"E":3570},{"panel":"c","tc":"TC = 3%","temp":"37 °C","phi":11.67,"E":2950},{"panel":"c","tc":"TC = 3%","temp":"37 °C","phi":11.93,"E":2800},{"panel":"c","tc":"TC = 3%","temp":"37 °C","phi":12.34,"E":5640},{"panel":"c","tc":"TC = 3%","temp":"37 °C","phi":12.5,"E":4480},{"panel":"c","tc":"TC = 3%","temp":"37 °C","phi":13.32,"E":4270},
      {"panel":"c","tc":"TC = 5%","temp":"37 °C","phi":12.34,"E":6200},{"panel":"c","tc":"TC = 5%","temp":"37 °C","phi":12.9,"E":6500},{"panel":"c","tc":"TC = 5%","temp":"37 °C","phi":13.21,"E":6200},{"panel":"c","tc":"TC = 5%","temp":"37 °C","phi":12.8,"E":4910},{"panel":"c","tc":"TC = 5%","temp":"37 °C","phi":13.42,"E":4700},{"panel":"c","tc":"TC = 5%","temp":"37 °C","phi":13.63,"E":5640},{"panel":"c","tc":"TC = 5%","temp":"37 °C","phi":14.05,"E":4910},{"panel":"c","tc":"TC = 5%","temp":"37 °C","phi":12.7,"E":3390},{"panel":"c","tc":"TC = 5%","temp":"37 °C","phi":13.42,"E":3720},{"panel":"c","tc":"TC = 5%","temp":"37 °C","phi":13.63,"E":2690},
      {"panel":"c","tc":"TC = 5%","temp":"54 °C","phi":7.54,"E":1770},{"panel":"c","tc":"TC = 5%","temp":"54 °C","phi":7.77,"E":2130},{"panel":"c","tc":"TC = 5%","temp":"54 °C","phi":8.33,"E":2340},{"panel":"c","tc":"TC = 5%","temp":"54 °C","phi":8.85,"E":2450},{"panel":"c","tc":"TC = 5%","temp":"54 °C","phi":9.57,"E":2690},{"panel":"c","tc":"TC = 5%","temp":"54 °C","phi":10.03,"E":2340},{"panel":"c","tc":"TC = 5%","temp":"54 °C","phi":10.65,"E":2800},{"panel":"c","tc":"TC = 5%","temp":"54 °C","phi":10.96,"E":2450},{"panel":"c","tc":"TC = 5%","temp":"54 °C","phi":11.58,"E":3080},{"panel":"c","tc":"TC = 5%","temp":"54 °C","phi":11.79,"E":2800},
      {"panel":"c","tc":"TC = 7%","temp":"37 °C","phi":12.7,"E":3570},{"panel":"c","tc":"TC = 7%","temp":"37 °C","phi":13.37,"E":3900},{"panel":"c","tc":"TC = 7%","temp":"37 °C","phi":13.68,"E":3390},{"panel":"c","tc":"TC = 7%","temp":"37 °C","phi":14.14,"E":3570},{"panel":"c","tc":"TC = 7%","temp":"37 °C","phi":14.45,"E":3900},{"panel":"c","tc":"TC = 7%","temp":"37 °C","phi":14.71,"E":3570},{"panel":"c","tc":"TC = 7%","temp":"37 °C","phi":13.63,"E":2340},{"panel":"c","tc":"TC = 7%","temp":"37 °C","phi":14.09,"E":2450},{"panel":"c","tc":"TC = 7%","temp":"37 °C","phi":12.99,"E":1690},{"panel":"c","tc":"TC = 7%","temp":"37 °C","phi":11.93,"E":1860},
      {"panel":"c","tc":"TC = 7%","temp":"54 °C","phi":7.46,"E":1740},{"panel":"c","tc":"TC = 7%","temp":"54 °C","phi":9.19,"E":1890},{"panel":"c","tc":"TC = 7%","temp":"54 °C","phi":9.77,"E":1990},{"panel":"c","tc":"TC = 7%","temp":"54 °C","phi":10.5,"E":2300},{"panel":"c","tc":"TC = 7%","temp":"54 °C","phi":11.1,"E":2500}
    ]
  },
  "resolve": {
    "scale": {"color": "independent", "shape": "independent", "strokeDash": "independent"},
    "legend": {"color": "independent", "shape": "independent", "strokeDash": "independent"}
  },
  "vconcat": [
    {
      "width": 501, "height": 238,
      "title": {"text": "(a)", "orient": "bottom", "anchor": "middle", "offset": 12},
      "encoding": {
        "x": {"field": "phi", "type": "quantitative", "scale": {"domain": [0, 16], "nice": false, "zero": false}, "axis": {"values": [0,2,4,6,8,10,12,14,16], "title": "φ  (°)"}},
        "y": {"field": "E", "type": "quantitative", "scale": {"type": "log", "domain": [100, 100000], "nice": false}, "axis": {"values": [100,200,300,400,500,600,700,800,900,1000,2000,3000,4000,5000,6000,7000,8000,9000,10000,20000,30000,40000,50000,60000,70000,80000,90000,100000], "format": "d", "labelExpr": "datum.value == 100 || datum.value == 1000 || datum.value == 10000 || datum.value == 100000 ? datum.label : ''", "title": "|E*| (MPa)"}}
      },
      "layer": [
        {
          "data": {"name": "points"},
          "transform": [{"filter": "datum.panel == 'a'"}],
          "mark": {"type": "point", "filled": true, "opacity": 1, "size": 60},
          "encoding": {
            "shape": {"field": "tc", "type": "nominal", "scale": {"domain": ["TC = 3%", "TC = 5%", "TC = 7%"], "range": ["triangle-up", "square", "circle"]}, "legend": {"title": null, "labelFontSize": 12.5, "symbolSize": 110, "rowPadding": 9.5, "symbolOffset": 18, "labelOffset": 8, "offset": 20}},
            "color": {"field": "temp", "type": "nominal", "scale": {"domain": ["-10 °C", "4 °C", "21 °C", "37 °C", "54 °C"], "range": ["#1fb1ee", "#2b7cc3", "#1b2d66", "#f41c1c", "#b5121b"]}, "legend": {"orient": "none", "legendX": 551, "legendY": 156, "title": "Temp.", "titleFontSize": 10, "titleFontWeight": "bold", "titleAnchor": "middle", "titlePadding": 8, "labelFontSize": 10, "symbolType": "diamond", "symbolSize": 40, "rowPadding": 10.8, "labelOffset": 8}}
          }
        },
        {
          "data": {"name": "curves"},
          "transform": [{"filter": "datum.panel == 'a'"}],
          "mark": {"type": "line", "color": "black", "strokeWidth": 2},
          "encoding": {
            "strokeDash": {"field": "model", "type": "nominal", "scale": {"domain": ["3% 2S2P1D", "5% 2S2P1D", "7% 2S2P1D"], "range": [[13, 5], [6, 5], [1, 0]]}, "legend": {"orient": "none", "legendX": 522, "legendY": 70, "title": null, "labelFontSize": 11.2, "symbolSize": 900, "symbolStrokeWidth": 1.5, "rowPadding": 2.5, "labelOffset": 6}},
            "order": {"value": null}
          }
        }
      ]
    },
    {
      "width": 508, "height": 245,
      "title": {"text": "(b)", "orient": "bottom", "anchor": "middle", "offset": 12},
      "encoding": {
        "x": {"field": "phi", "type": "quantitative", "scale": {"domain": [0, 16], "nice": false, "zero": false}, "axis": {"values": [0,2,4,6,8,10,12,14,16], "title": "φ  (°)"}},
        "y": {"field": "E", "type": "quantitative", "scale": {"type": "log", "domain": [100, 100000], "nice": false}, "axis": {"values": [100,200,300,400,500,600,700,800,900,1000,2000,3000,4000,5000,6000,7000,8000,9000,10000,20000,30000,40000,50000,60000,70000,80000,90000,100000], "format": "d", "labelExpr": "datum.value == 100 || datum.value == 1000 || datum.value == 10000 || datum.value == 100000 ? datum.label : ''", "title": "|E*| (MPa)"}}
      },
      "layer": [
        {
          "data": {"name": "points"},
          "transform": [{"filter": "datum.panel == 'b'"}],
          "mark": {"type": "point", "filled": true, "opacity": 1, "size": 60},
          "encoding": {
            "shape": {"field": "tc", "type": "nominal", "scale": {"domain": ["TC = 3%", "TC = 5%", "TC = 7%"], "range": ["triangle-up", "square", "circle"]}, "legend": {"title": null, "labelFontSize": 12.5, "symbolSize": 110, "rowPadding": 10.5, "symbolOffset": 18, "labelOffset": 8, "offset": 35}},
            "color": {"field": "temp", "type": "nominal", "scale": {"domain": ["-10 °C", "4 °C", "21 °C", "37 °C", "54 °C"], "range": ["#1fb1ee", "#2b7cc3", "#1b2d66", "#f41c1c", "#b5121b"]}, "legend": {"orient": "none", "legendX": 571, "legendY": 163, "title": "Temp.", "titleFontSize": 10, "titleFontWeight": "bold", "titleAnchor": "middle", "titlePadding": 8, "labelFontSize": 10, "symbolType": "diamond", "symbolSize": 40, "rowPadding": 11.8, "labelOffset": 8}}
          }
        },
        {
          "data": {"name": "curves"},
          "transform": [{"filter": "datum.panel == 'b'"}],
          "mark": {"type": "line", "color": "black", "strokeWidth": 2},
          "encoding": {
            "strokeDash": {"field": "model", "type": "nominal", "scale": {"domain": ["3% 2S2P1D", "5% 2S2P1D", "7% 2S2P1D"], "range": [[13, 5], [6, 5], [1, 0]]}, "legend": {"orient": "none", "legendX": 544, "legendY": 76, "title": null, "labelFontSize": 11.2, "symbolSize": 900, "symbolStrokeWidth": 1.5, "rowPadding": 3.5, "labelOffset": 6}},
            "order": {"value": null}
          }
        }
      ]
    },
    {
      "width": 517, "height": 248,
      "title": {"text": "(c)", "orient": "bottom", "anchor": "middle", "offset": 12},
      "encoding": {
        "x": {"field": "phi", "type": "quantitative", "scale": {"domain": [0, 16], "nice": false, "zero": false}, "axis": {"values": [0,2,4,6,8,10,12,14,16], "title": "φ  (°)"}},
        "y": {"field": "E", "type": "quantitative", "scale": {"type": "log", "domain": [100, 100000], "nice": false}, "axis": {"values": [100,200,300,400,500,600,700,800,900,1000,2000,3000,4000,5000,6000,7000,8000,9000,10000,20000,30000,40000,50000,60000,70000,80000,90000,100000], "format": "d", "labelExpr": "datum.value == 100 || datum.value == 1000 || datum.value == 10000 || datum.value == 100000 ? datum.label : ''", "title": "|E*| (MPa)"}}
      },
      "layer": [
        {
          "data": {"name": "points"},
          "transform": [{"filter": "datum.panel == 'c'"}],
          "mark": {"type": "point", "filled": true, "opacity": 1, "size": 60},
          "encoding": {
            "shape": {"field": "tc", "type": "nominal", "scale": {"domain": ["TC = 3%", "TC = 5%", "TC = 7%"], "range": ["triangle-up", "square", "circle"]}, "legend": {"title": null, "labelFontSize": 12.5, "symbolSize": 110, "rowPadding": 10.5, "symbolOffset": 18, "labelOffset": 8, "offset": 36}},
            "color": {"field": "temp", "type": "nominal", "scale": {"domain": ["-10 °C", "4 °C", "21 °C", "37 °C", "54 °C"], "range": ["#1fb1ee", "#2b7cc3", "#1b2d66", "#f41c1c", "#b5121b"]}, "legend": {"orient": "none", "legendX": 577, "legendY": 166, "title": "Temp.", "titleFontSize": 10, "titleFontWeight": "bold", "titleAnchor": "middle", "titlePadding": 8, "labelFontSize": 10, "symbolType": "diamond", "symbolSize": 40, "rowPadding": 11.3, "labelOffset": 8}}
          }
        },
        {
          "data": {"name": "curves"},
          "transform": [{"filter": "datum.panel == 'c'"}],
          "mark": {"type": "line", "color": "black", "strokeWidth": 2},
          "encoding": {
            "strokeDash": {"field": "model", "type": "nominal", "scale": {"domain": ["3% 2S2P1D", "5% 2S2P1D", "7% 2S2P1D"], "range": [[13, 5], [6, 5], [1, 0]]}, "legend": {"orient": "none", "legendX": 552, "legendY": 74, "title": null, "labelFontSize": 11.2, "symbolSize": 900, "symbolStrokeWidth": 1.5, "rowPadding": 4, "labelOffset": 6}},
            "order": {"value": null}
          }
        }
      ]
    }
  ],
  "config": {
    "view": {"stroke": "#8a8a8a", "strokeWidth": 1.5},
    "font": "Lato",
    "axis": {"labelFont": "Lato", "labelFontSize": 10.5, "labelColor": "#333333", "titleFont": "Lato", "titleFontSize": 11, "titleFontWeight": "bold", "titleColor": "#222222", "ticks": false, "domain": false, "grid": true, "gridColor": "#2a2a2a", "gridDash": [3, 2], "gridWidth": 0.8, "gridOpacity": 1, "labelPadding": 8},
    "axisY": {"titlePadding": 14},
    "axisX": {"titlePadding": 22},
    "legend": {"orient": "right", "symbolBaseFillColor": "black", "symbolBaseStrokeColor": "black", "labelFont": "Liberation Serif", "titleFont": "Liberation Serif", "labelColor": "#111111", "titleColor": "#111111"},
    "title": {"font": "Lato", "fontSize": 12, "fontWeight": "normal", "color": "#111111"}
  }
}
